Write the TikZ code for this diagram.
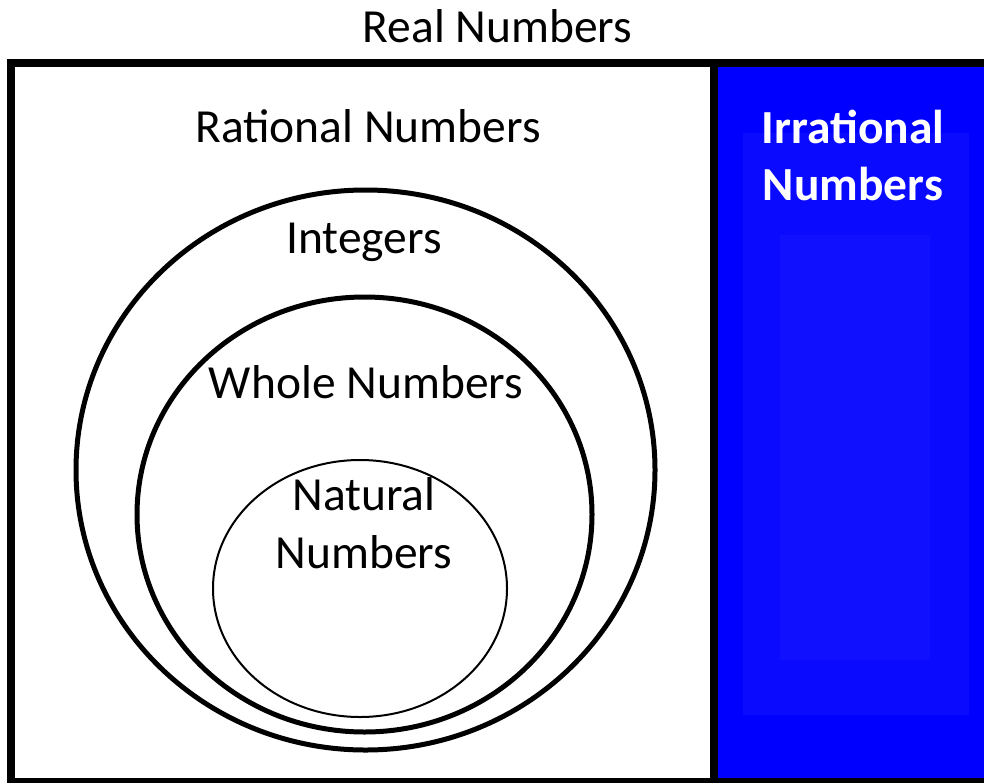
\documentclass[tikz,border=0pt]{standalone}
\usepackage{fontspec}
\setmainfont{Carlito}
\usetikzlibrary{shapes.geometric}
\definecolor{irrblue}{RGB}{0,0,255}
\definecolor{irrblueA}{RGB}{10,10,255}
\definecolor{irrblueB}{RGB}{16,16,255}
\tikzset{
  lbl/.style={anchor=base, inner sep=0pt, font=\fontsize{47.5}{58}\selectfont, text=black},
  wlbl/.style={anchor=base, inner sep=0pt, font=\fontsize{47.5}{58}\selectfont\bfseries, text=white},
  setring/.style={draw=black, ellipse, inner sep=0pt, line width=5pt},
  thinring/.style={draw=black, ellipse, inner sep=0pt, line width=2pt},
}
\begin{document}
\begin{tikzpicture}[x=1pt, y=-1pt]
\useasboundingbox (0,0) rectangle (984,782);
\clip (0,0) rectangle (984,782);
% blue irrational region
\fill[irrblue] (714,62) rectangle (990,782);
\fill[irrblueA] (743,133) rectangle (969,715);
\fill[irrblueB] (780,235) rectangle (930,660);
% outer frame and divider
\draw[line width=8pt] (11,62.5) rectangle (990,782);
\draw[line width=8pt] (714,62.5) -- (714,782);
% rings
\node[setring, minimum width=579pt, minimum height=560pt] (int) at (365.5,470) {};
\node[setring, minimum width=455pt, minimum height=435pt] (whole) at (364.5,514.5) {};
\node[thinring, minimum width=294pt, minimum height=257pt] (nat) at (360,588.5) {};
% labels
\node[lbl] (real) at (497.5,42) {Real Numbers};
\node[lbl] (rat) at (368,142) {Rational Numbers};
\node[lbl] (intl) at (364,253) {Integers};
\node[lbl] (wholel) at (366,398) {Whole Numbers};
\node[lbl] (natl1) at (364,510) {Natural};
\node[lbl] (natl2) at (364,568) {Numbers};
\node[wlbl] (irr1) at (853,143) {Irrational};
\node[wlbl] (irr2) at (853,200) {Numbers};
\end{tikzpicture}
\end{document}
